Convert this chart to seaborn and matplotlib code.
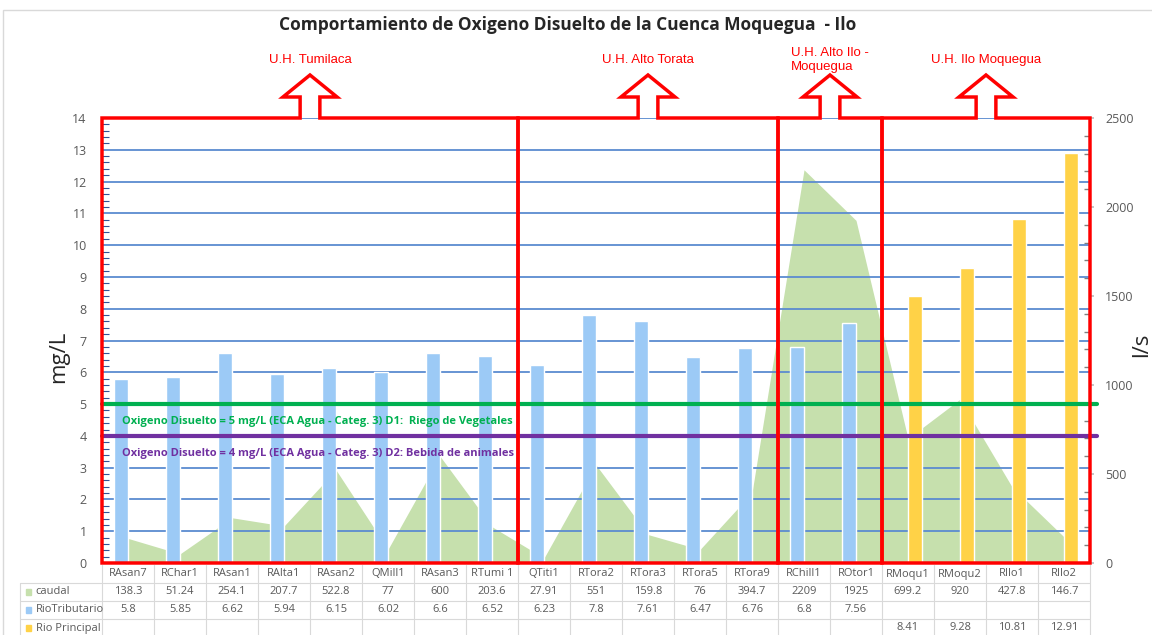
import numpy as np
import pandas as pd
import seaborn as sns
import matplotlib.pyplot as plt
import matplotlib.transforms as mtransforms
from matplotlib.patches import Polygon, Rectangle
from matplotlib.lines import Line2D
from matplotlib.ticker import MultipleLocator

# ---------------- data ----------------
estaciones = ["RAsan7", "RChar1", "RAsan1", "RAlta1", "RAsan2", "QMill1", "RAsan3", "RTumi 1",
              "QTiti1", "RTora2", "RTora3", "RTora5", "RTora9", "RChill1", "ROtor1",
              "RMoqu1", "RMoqu2", "RIlo1", "RIlo2"]
caudal = [138.3, 51.24, 254.1, 207.7, 522.8, 77, 600, 203.6,
          27.91, 551, 159.8, 76, 394.7, 2209, 1925,
          699.2, 920, 427.8, 146.7]
rio_tributario = [5.8, 5.85, 6.62, 5.94, 6.15, 6.02, 6.6, 6.52,
                  6.23, 7.8, 7.61, 6.47, 6.76, 6.8, 7.56,
                  np.nan, np.nan, np.nan, np.nan]
rio_principal = [np.nan] * 15 + [8.41, 9.28, 10.81, 12.91]

grupos = ["U.H. Tumilaca", "U.H. Alto Torata", "U.H. Alto Ilo -\nMoquegua", "U.H. Ilo Moquegua"]
grupo_n = [8, 5, 2, 4]

eca_d1 = 5
eca_d2 = 4
txt_d1 = "Oxigeno Disuelto = 5 mg/L (ECA Agua - Categ. 3) D1:  Riego de Vegetales"
txt_d2 = "Oxigeno Disuelto = 4 mg/L (ECA Agua - Categ. 3) D2: Bebida de animales"

# colours
c_caudal = "#c6e0ad"
c_trib = "#9ccaf6"
c_princ = "#ffd247"
c_red = "#ff0000"
c_grid = "#5b8bd0"
c_txt = "#595959"

sns.set_theme(style="white")
plt.rcParams["font.family"] = ["Open Sans", "DejaVu Sans"]

fig = plt.figure(figsize=(11.52, 6.35), dpi=100)
ax = fig.add_axes([102 / 1152, 1 - 563 / 635, (1090 - 102) / 1152, (563 - 118) / 635])
ax2 = ax.twinx()
ax.set_zorder(ax2.get_zorder() + 1)
ax.patch.set_visible(False)

n = len(estaciones)
x = np.arange(n)

# caudal area on the secondary axis
ax2.fill_between(x, caudal, color=c_caudal, lw=0)
ax2.set_ylim(0, 2500)
ax2.yaxis.set_major_locator(MultipleLocator(500))
ax2.yaxis.set_minor_locator(MultipleLocator(100))
ax2.tick_params(axis="y", which="major", labelsize=9, labelcolor=c_txt, length=3,
                color="#bfbfbf", direction="out", pad=8, right=True)
ax2.tick_params(axis="y", which="minor", length=4, color="#7f7f7f", direction="in", right=True)
ax2.set_ylabel("")

# bars
df = pd.DataFrame({
    "estacion": estaciones * 2,
    "serie": ["RioTributario"] * n + ["Rio Principal"] * n,
    "od": rio_tributario + rio_principal,
})
sns.barplot(data=df, x="estacion", y="od", hue="serie", order=estaciones,
            hue_order=["RioTributario", "Rio Principal"], palette=[c_trib, c_princ],
            width=0.54, gap=0, saturation=1, errorbar=None, legend=False, ax=ax, zorder=2)

ax.set_xlim(-0.5, n - 0.5)
ax.set_ylim(0, 14)
ax.yaxis.set_major_locator(MultipleLocator(1))
ax.yaxis.set_minor_locator(MultipleLocator(0.2))
ax.grid(axis="y", color=c_grid, lw=1.3, zorder=0)
ax.set_axisbelow(True)
ax.tick_params(axis="y", which="major", labelsize=9, labelcolor=c_txt, length=0, pad=11, left=True)
ax.tick_params(axis="y", which="minor", length=5, width=0.8, color="#2f5597", direction="in", left=True)
ax.set_xticks(x)
ax.set_xticklabels([])
ax.tick_params(axis="x", length=0)
ax.set_xlabel("")
ax.set_ylabel("")
for a in (ax, ax2):
    for s in a.spines.values():
        s.set_visible(False)

# axis titles
fig.text(59 / 1152, 1 - 357 / 635, "mg/L", rotation=90, ha="center", va="center",
         fontsize=16, color="#262626")
fig.text(1142 / 1152, 1 - 345 / 635, "l/s", rotation=90, ha="center", va="center",
         fontsize=16, color="#262626")

# ECA lines
ax.axhline(eca_d1, color="#00b050", lw=3, xmax=1.007, clip_on=False, zorder=4)
ax.axhline(eca_d2, color="#7030a0", lw=3, xmax=1.007, clip_on=False, zorder=4)
ax.text(3.65, eca_d1 - 0.55, txt_d1, color="#00b050", fontsize=8, fontweight="bold",
        ha="center", va="center", zorder=5)
ax.text(3.65, eca_d2 - 0.55, txt_d2, color="#7030a0", fontsize=8, fontweight="bold",
        ha="center", va="center", zorder=5)

# group boxes with arrows
px = 14 / 445.0  # data units per pixel (y)
shaft_top = 14 + 21 * px
tip = 14 + 43 * px
sw, hw = 0.19, 0.52
start = -0.5
for nombre, cnt in zip(grupos, grupo_n):
    x0, x1 = start, start + cnt
    cx = (x0 + x1) / 2
    verts = [(x0, 0), (x0, 14), (cx - sw, 14), (cx - sw, shaft_top), (cx - hw, shaft_top),
             (cx, tip), (cx + hw, shaft_top), (cx + sw, shaft_top), (cx + sw, 14),
             (x1, 14), (x1, 0)]
    ax.add_patch(Polygon(verts, closed=True, fill=False, ec=c_red, lw=2.5,
                         clip_on=False, zorder=6, joinstyle="miter"))
    ax.text(cx, 14 + 58 * px, nombre, color=c_red, fontsize=9.5, ha="center", va="center",
            multialignment="left", family=["Liberation Sans", "DejaVu Sans"], linespacing=1.25)
    start = x1

# data table under the chart
tr = mtransforms.blended_transform_factory(ax.transData, ax.transAxes)
row_h = 18 / 445.0
top = -2 / 445.0
left_edge = -0.5 - 82 / 52.0
filas = [("caudal", c_caudal, caudal), ("RioTributario", c_trib, rio_tributario),
         ("Rio Principal", c_princ, rio_principal)]
for i, est in enumerate(estaciones):
    ax.text(i, top - row_h / 2, est, transform=tr, ha="center", va="center", fontsize=8,
            color=c_txt, clip_on=False)
for r, (nombre, col, vals) in enumerate(filas, start=1):
    yc = top - row_h * (r + 0.5)
    ax.add_patch(Rectangle((left_edge + 0.12, yc - 0.006), 0.1, 0.013, transform=tr,
                           color=col, clip_on=False))
    ax.text(left_edge + 0.3, yc, nombre, transform=tr, ha="left", va="center", fontsize=8,
            color=c_txt, clip_on=False)
    for i, v in enumerate(vals):
        if not np.isnan(v):
            ax.text(i, yc, f"{v:g}", transform=tr, ha="center", va="center", fontsize=8,
                    color=c_txt, clip_on=False)
# table grid
gcol = "#d9d9d9"
for k in range(n + 1):
    ax.add_line(Line2D([k - 0.5, k - 0.5], [top, top - 4 * row_h], transform=tr,
                       color=gcol, lw=0.8, clip_on=False))
ax.add_line(Line2D([left_edge, left_edge], [top - row_h, top - 4 * row_h], transform=tr,
                   color=gcol, lw=0.8, clip_on=False))
for r in range(1, 5):
    ax.add_line(Line2D([left_edge, n - 0.5], [top - r * row_h] * 2, transform=tr,
                       color=gcol, lw=0.8, clip_on=False))

fig.text(0.493, 0.961, "Comportamiento de Oxigeno Disuelto de la Cuenca Moquegua  - Ilo",
         ha="center", va="center", fontsize=12.5, fontweight="bold", color="#262626")
fig.patches.append(Rectangle((3 / 1152, -0.01), 1.2, 1 - 10 / 635 + 0.01, transform=fig.transFigure,
                             fill=False, ec="#d9d9d9", lw=1))

fig.savefig("out.png", dpi=100)
